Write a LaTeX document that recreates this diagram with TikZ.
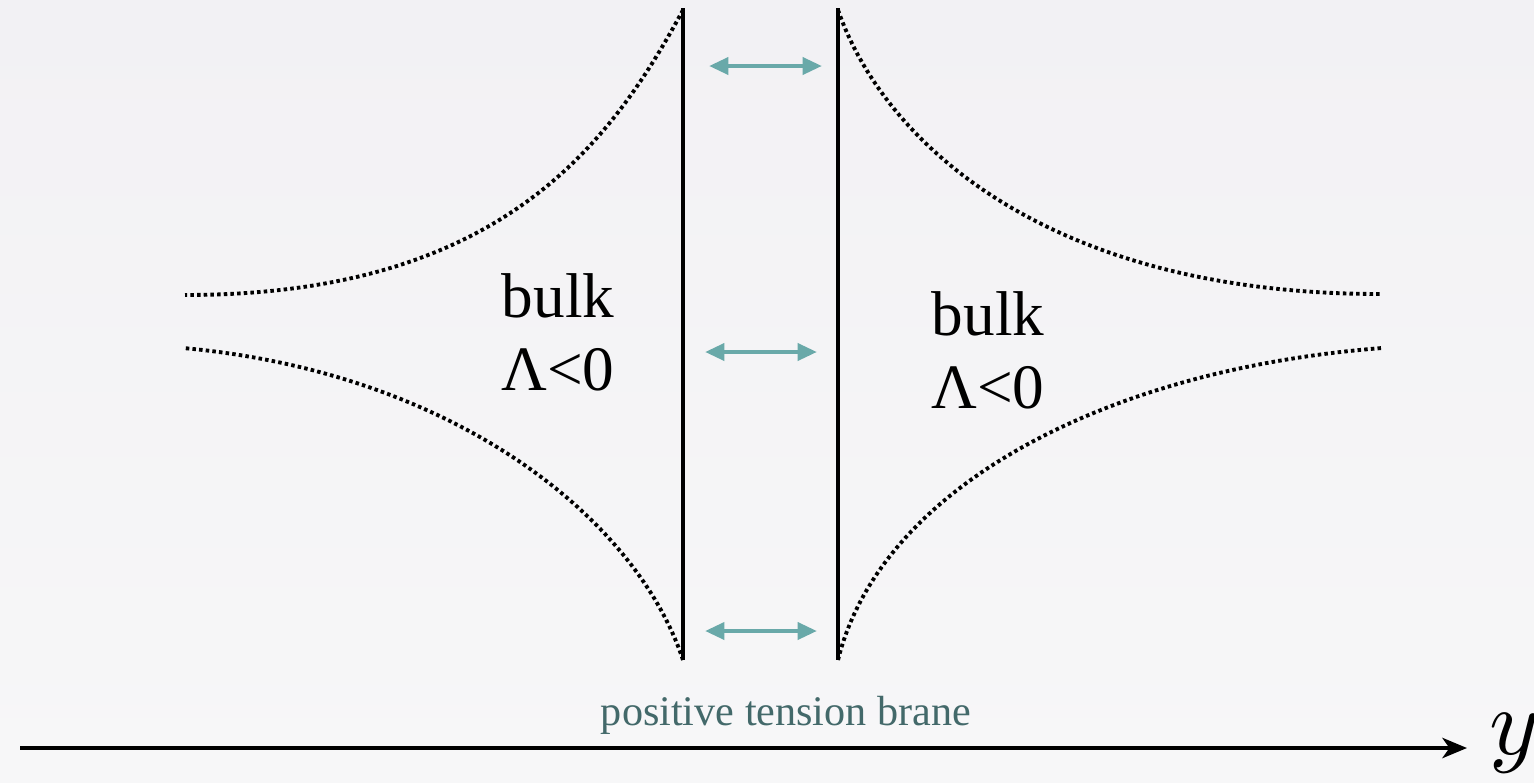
\documentclass[tikz,border=0pt]{standalone}
\usepackage{fontspec}
\setmainfont{Liberation Serif}
\usetikzlibrary{arrows.meta, positioning}
\definecolor{bgtop}{HTML}{F2F1F4}
\definecolor{bgbot}{HTML}{F7F7F8}
\definecolor{flowcol}{HTML}{69A9A9}
\definecolor{branelabel}{HTML}{43696A}

\begin{document}
\begin{tikzpicture}[
  x=0.02cm, y=-0.02cm,
  brane/.style={line width=2.4pt, line cap=butt},
  horizon/.style={line width=2.2pt, dash pattern=on 2pt off 1.8pt},
  flow/.style={{Triangle[length=11pt, width=9.5pt]}-{Triangle[length=11pt, width=9.5pt]}, line width=2.5pt, flowcol},
  axis/.style={-{Stealth[length=14pt, width=11.5pt, inset=4pt]}, line width=2.8pt},
  bulktext/.style={align=center, font=\rmfamily\fontsize{36}{41.5}\selectfont}
]
% background
\shade[top color=bgtop, bottom color=bgbot] (0,0) rectangle (1534,782);
\useasboundingbox (0,0) rectangle (1534,782);

% the two branes
\coordinate (lbtop) at (683,8);
\coordinate (lbbot) at (683,660);
\coordinate (rbtop) at (838,8);
\coordinate (rbbot) at (838,660);
\draw[brane] (lbtop) -- (lbbot);
\draw[brane] (rbtop) -- (rbbot);

% warped horizons
\draw[horizon] (683,10) .. controls (610,145) and (500,295) .. (185,295);
\draw[horizon] (683,660) .. controls (635,515) and (450,372) .. (183,348);
\draw[horizon] (838,10) .. controls (885,145) and (1050,294) .. (1380,294);
\draw[horizon] (838,660) .. controls (880,490) and (1100,370) .. (1382,348);

% bulk labels
\node[bulktext] (bulkl) at (558,332) {bulk\\Λ<0};
\node[bulktext] (bulkr) at (988,350) {bulk\\Λ<0};

% fluctuations between the branes
\coordinate (f1a) at (709,66);
\coordinate (f1b) at (822,66);
\coordinate (f2a) at (705,352);
\coordinate (f2b) at (817,352);
\coordinate (f3a) at (705,631);
\coordinate (f3b) at (817,631);
\draw[flow] (f1a) -- (f1b);
\draw[flow] (f2a) -- (f2b);
\draw[flow] (f3a) -- (f3b);

\node[anchor=base, text=branelabel, font=\rmfamily\fontsize{24}{28}\selectfont] (tension) at (786,725) {positive tension brane};

% extra dimension
\coordinate (yorig) at (20,748);
\coordinate (yend) at (1467,748);
\draw[axis] (yorig) -- (yend);
\node[anchor=base west, inner sep=0pt, scale=5.4] (ylab) at (1488,754) {$y$};
\end{tikzpicture}
\end{document}
